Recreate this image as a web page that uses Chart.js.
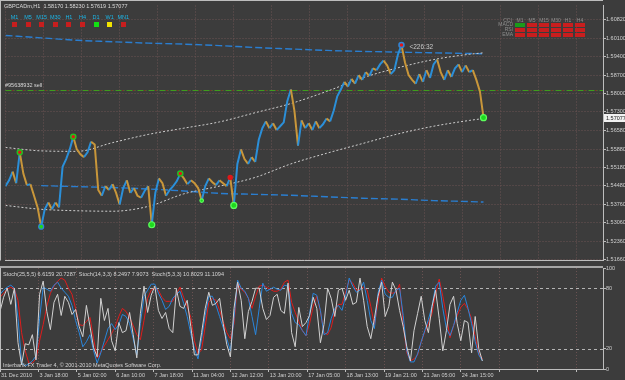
<!DOCTYPE html>
<html><head><meta charset="utf-8">
<script src="https://cdn.jsdelivr.net/npm/chart.js@4.4.1/dist/chart.umd.min.js"></script>
<style>
html,body{margin:0;padding:0;background:#3c3c3c;width:625px;height:380px;overflow:hidden}
canvas{position:absolute;left:0}
#cA{top:0}
#cB{top:266px}
</style></head><body>
<canvas id="cA" width="625" height="266"></canvas>
<canvas id="cB" width="625" height="114"></canvas>
<script>
// ---------------- data ----------------
const symbolTitle = 'GBPCADm,H1  1.58170 1.58230 1.57619 1.57077';
const barsPerSample = 3;      // one sample every 3 H1 bars
const barsPerLabel = 32;      // time label every 32 bars
const timeLabels = ['31 Dec 2010','3 Jan 18:00','5 Jan 02:00','6 Jan 10:00','7 Jan 18:00','11 Jan 04:00','12 Jan 12:00','13 Jan 20:00','17 Jan 05:00','18 Jan 13:00','19 Jan 21:00','21 Jan 05:00','24 Jan 15:00'];
const priceTicks = [1.60820,1.60100,1.59400,1.58700,1.58000,1.57300,1.56580,1.55880,1.55180,1.54480,1.53760,1.53060,1.52360,1.51660];
const priceVals = [
1.54464,1.54685,1.55017,1.54575,1.55755,1.54943,1.54501,1.54538,1.54095,1.53652,
1.52915,1.53579,1.53837,1.53579,1.53837,1.53652,1.55202,1.55497,1.55866,1.56345,
1.55866,1.55681,1.55571,1.55755,1.56161,1.56050,1.54316,1.54095,1.54464,1.54316,
1.54538,1.54206,1.53763,1.54390,1.54685,1.54206,1.54390,1.54095,1.54021,1.54279,
1.54464,1.52988,1.54206,1.54759,1.54575,1.54095,1.54316,1.54464,1.54648,1.54943,
1.54759,1.54538,1.54685,1.54575,1.54390,1.53911,1.54464,1.54759,1.54611,1.54501,
1.54685,1.54575,1.54464,1.54796,1.53726,1.55312,1.55866,1.55497,1.55312,1.55571,
1.55386,1.56235,1.56677,1.56936,1.56677,1.56862,1.56604,1.56751,1.56899,1.57710,
1.58153,1.57341,1.56013,1.56972,1.56677,1.56862,1.56604,1.56936,1.56677,1.56825,
1.57046,1.56936,1.57341,1.57895,1.58153,1.58448,1.58264,1.58559,1.58374,1.58706,
1.58522,1.58817,1.58669,1.58965,1.58891,1.59112,1.59260,1.59075,1.58743,1.58891,
1.59481,1.59850,1.59186,1.58706,1.58522,1.58374,1.58743,1.58448,1.58891,1.58596,
1.59112,1.59297,1.58817,1.58522,1.58891,1.58632,1.58965,1.59112,1.58817,1.59075,
1.58817,1.58891,1.58522,1.58079,1.57077];
const lineIdx   = [0,10,20,30,40,50,60,70,80,90,100,110,120,130,134];
const maUpper   = [1.60219,1.60127,1.60034,1.59979,1.59924,1.59887,1.59831,1.59758,1.59702,1.59647,1.59610,1.59581,1.59555,1.59529,1.59518];
const maLower   = [null,1.54482,1.54445,1.54409,1.54353,1.54279,1.54187,1.54150,1.54113,1.54058,1.54003,1.53966,1.53911,1.53874,1.53855];
const chanUpper = [1.55940,1.55810,1.55792,1.56124,1.56438,1.56677,1.56917,1.57268,1.57618,1.58079,1.58596,1.58983,1.59297,1.59499,1.59555];
const chanLower = [1.53726,1.53579,1.53523,1.53505,1.53689,1.54169,1.54464,1.54796,1.55312,1.55718,1.56087,1.56456,1.56751,1.56972,1.57046];
const peakIdx   = [4,19,49,63,111];
const peakRing  = ['#22c022','#22c022','#22c022','#e01818','#2f86d6'];
const peakSize  = [2.5,2.5,2.5,2,2.5];
const troughIdx = [10,41,55,64,134];
const troughRing= ['#2f86d6','#5cff5c','#5cff5c','#5cff5c','#5cff5c'];
const troughSize= [2.5,3,1.8,3,3];
const orderPrice = 1.58142;
const orderLabel = '#95638932 sell';
const lastPrice = 1.57077;
const timerText = '<226:32';
const stochSlow = [71,75,79,81,79,68,36,18,6,6,10,28,44,62,75,82,87,90,88,80,74,60,44,43,47,51,30,11,17,23,29,35,42,52,60,57,51,43,34,29,48,70,78,80,78,71,67,67,67,74,81,71,62,51,28,15,19,42,66,70,68,58,47,36,30,45,85,79,76,70,60,72,82,83,81,79,77,77,79,86,88,66,56,47,38,33,45,62,72,57,36,34,41,57,64,64,76,88,85,78,79,81,78,62,44,65,90,82,76,75,76,84,45,16,8,10,14,27,37,45,55,75,89,72,52,31,43,53,61,65,59,50,32,15,10];
const stochMid  = [74,78,81,83,80,50,6,3,5,8,13,50,81,79,77,83,86,80,76,72,63,48,36,22,27,34,18,6,16,28,40,45,39,44,54,52,45,30,14,45,72,78,84,84,75,68,59,62,70,74,77,65,52,35,20,10,30,53,72,72,63,52,41,30,18,50,88,80,77,70,52,34,60,85,77,79,81,79,78,83,82,55,46,44,38,33,55,75,73,58,34,36,50,60,63,58,72,90,82,76,78,86,68,48,40,75,88,74,71,71,78,80,53,18,7,7,15,27,38,49,62,82,86,60,40,33,43,56,68,73,60,45,27,14,8];
const stochFast = [57,71,80,64,80,26,4,25,24,34,9,74,87,57,39,66,74,53,72,66,54,59,42,32,63,42,21,12,70,48,60,28,18,46,36,38,56,34,11,55,82,56,73,82,58,50,56,40,36,79,62,60,68,42,14,14,36,60,76,63,65,70,45,24,12,60,86,68,30,57,67,80,80,60,49,53,71,74,58,55,85,36,22,61,42,46,53,71,60,26,44,80,70,52,78,80,68,78,64,66,90,68,42,30,50,72,86,52,62,86,78,58,42,22,8,38,55,72,48,36,62,78,50,18,38,64,72,45,28,48,46,16,52,20,8];
const stochLevels = [20,80];
const stochTicks = [0,20,80,100];
const stochLabel = 'Stoch(25,5,5) 6.6159 20.7287  Stoch(14,3,3) 8.2497 7.9073  Stoch(5,3,3) 10.8029 11.1094';
const copyright = 'Interbank FX Trader 4, \u00a9 2001-2010 MetaQuotes Software Corp.';
const tfNames = ['M1','M5','M15','M30','H1','H4','D1','W1','MN1'];
const tfState = ['down','down','down','down','down','down','up','flat','down'];
const sigCols = ['M1','M5','M15','M30','H1','H4'];
const sigRows = ['MACD','RSI','EMA'];
const sigState = [[1,0,0,0,0,0],[0,0,0,0,0,0],[0,0,0,0,0,0]];

// ---------------- style ----------------
const FONT = '"Liberation Sans", Arial, sans-serif';
const GRID = '#6a5252';
const AXIS = '#bdbdbd';
const TXT = '#cfcfcf';
const UP = '#2b8fd8', DOWN = '#c8963a';
const yMin = 1.516231, yMax = 1.613623;
const xMax = 502.5;
const gridBars = [];
for (let b = 0; b <= 480; b += barsPerLabel) gridBars.push(b);

Chart.defaults.font.family = FONT;
Chart.defaults.font.size = 5.5;
Chart.defaults.color = TXT;

function xScale(show) {
  return {
    type: 'linear', min: 0, max: xMax,
    afterBuildTicks: s => { s.ticks = gridBars.map(v => ({value: v})); },
    afterFit: s => { s.height = show ? 11 : 0; s.paddingLeft = 0; s.paddingRight = 0; },
    grid: { color: GRID, lineWidth: 1, drawTicks: show, tickLength: 3, tickColor: AXIS },
    border: { display: true, color: AXIS, width: 1, dash: [1, 2] },
    ticks: { display: show, autoSkip: false, maxRotation: 0, minRotation: 0, align: 'start',
      padding: 0, labelOffset: 1, color: TXT, font: { size: 5.5 },
      callback: v => timeLabels[Math.round(v / barsPerLabel)] ?? '' }
  };
}
const pts = (arr, idx) => arr.map((v, k) => ({ x: (idx ? idx[k] : k) * barsPerSample, y: v }));

const mainDecor = {
  id: 'mainDecor',
  beforeDatasetsDraw(chart) {
    const { ctx, chartArea: a, scales: { y } } = chart;
    const yy = Math.round(y.getPixelForValue(orderPrice)) + 0.5;
    ctx.save();
    ctx.lineWidth = 1;
    ctx.strokeStyle = '#3f9c1d'; ctx.setLineDash([6, 2, 1, 2]);
    ctx.beginPath(); ctx.moveTo(a.left, yy); ctx.lineTo(a.right, yy); ctx.stroke();
    ctx.strokeStyle = '#a82020'; ctx.setLineDash([1, 10]); ctx.lineDashOffset = -7;
    ctx.beginPath(); ctx.moveTo(a.left, yy); ctx.lineTo(a.right, yy); ctx.stroke();
    ctx.restore();
  },
  afterDraw(chart) {
    const { ctx, chartArea: a, scales: { x, y } } = chart;
    ctx.save();
    ctx.fillStyle = AXIS;
    ctx.fillRect(0, 0, a.right, 1);
    ctx.fillRect(0, 0, 1, a.bottom);
    ctx.font = `5.5px ${FONT}`;
    ctx.textBaseline = 'middle';
    ctx.textAlign = 'left';
    ctx.fillStyle = '#dcdcdc';
    ctx.fillText(symbolTitle, 4, 6.5);
    // timeframe trend panel
    const tfColor = { down: '#c81e1e', up: '#12e012', flat: '#f2e400' };
    ctx.textAlign = 'center';
    tfNames.forEach((n, k) => {
      const cx = 14.5 + k * 13.6;
      ctx.fillStyle = '#1cb6e8';
      ctx.fillText(n, cx, 17);
      ctx.fillStyle = tfColor[tfState[k]];
      ctx.fillRect(Math.round(cx - 2.5), 22, 5, 5);
    });
    // signal table
    ctx.font = `5px ${FONT}`;
    ctx.fillStyle = '#8e8e8e';
    ctx.fillText('CCI', 507.5, 20.5);
    sigCols.forEach((c, k) => { ctx.fillStyle = '#8e8e8e'; ctx.fillText(c, 520 + k * 12, 20.5); });
    sigRows.forEach((r, j) => {
      ctx.textAlign = 'right'; ctx.fillStyle = '#8e8e8e';
      ctx.fillText(r, 513, 25 + j * 5);
      sigCols.forEach((c, k) => {
        ctx.fillStyle = sigState[j][k] ? '#1a9a1a' : '#c81e1e';
        ctx.fillRect(515 + k * 12, 23 + j * 5, 10, 4);
      });
    });
    // order label
    ctx.font = `5.5px ${FONT}`;
    ctx.textAlign = 'left';
    ctx.fillStyle = '#d8d8d8';
    ctx.fillText(orderLabel, 5, y.getPixelForValue(orderPrice) - 4.5);
    // countdown next to the top marker
    const ti = peakIdx[4];
    ctx.font = `6.5px ${FONT}`;
    ctx.fillStyle = '#c8c8c8';
    ctx.fillText(timerText, x.getPixelForValue(ti * barsPerSample) + 8, y.getPixelForValue(priceVals[ti]) + 2.5);
    // current price box
    const yl = Math.round(y.getPixelForValue(lastPrice));
    ctx.fillStyle = '#f2f2f2';
    ctx.fillRect(a.right + 1, yl - 4, 625 - a.right, 8);
    ctx.fillStyle = '#1c1c1c';
    ctx.font = `5.5px ${FONT}`;
    ctx.fillText(lastPrice.toFixed(5), a.right + 3, yl + 0.5);
    ctx.restore();
  }
};

new Chart(document.getElementById('cA'), {
  type: 'line',
  data: { datasets: [
    { data: pts(peakIdx.map(i => priceVals[i]), peakIdx), showLine: false,
      pointRadius: peakSize, pointBackgroundColor: '#e01818', pointBorderColor: peakRing, pointBorderWidth: 1.5, order: 0 },
    { data: pts(troughIdx.map(i => priceVals[i]), troughIdx), showLine: false,
      pointRadius: troughSize, pointBackgroundColor: '#1ed81e', pointBorderColor: troughRing, pointBorderWidth: 1.2, order: 0 },
    { data: pts(priceVals), borderWidth: 2, pointRadius: 0, borderColor: UP,
      segment: { borderColor: c => c.p1.parsed.y >= c.p0.parsed.y ? UP : DOWN }, order: 1 },
    { data: pts(maUpper, lineIdx), borderColor: '#2a7ed0', borderWidth: 1.4, borderDash: [7, 3], pointRadius: 0, cubicInterpolationMode: 'monotone', order: 3 },
    { data: pts(maLower, lineIdx), borderColor: '#2a7ed0', borderWidth: 1.4, borderDash: [7, 3], pointRadius: 0, cubicInterpolationMode: 'monotone', order: 3 },
    { data: pts(chanUpper, lineIdx), borderColor: '#cfcfcf', borderWidth: 1, borderDash: [2, 2], pointRadius: 0, cubicInterpolationMode: 'monotone', order: 2 },
    { data: pts(chanLower, lineIdx), borderColor: '#cfcfcf', borderWidth: 1, borderDash: [2, 2], pointRadius: 0, cubicInterpolationMode: 'monotone', order: 2 }
  ]},
  options: {
    responsive: false, animation: false, devicePixelRatio: 1, events: [],
    layout: { padding: { left: 0, top: 1, right: 0, bottom: 1 } },
    plugins: { legend: { display: false }, tooltip: { enabled: false } },
    scales: {
      x: xScale(false),
      y: { type: 'linear', position: 'right', min: yMin, max: yMax,
        afterBuildTicks: s => { s.ticks = priceTicks.map(v => ({value: v})); },
        afterFit: s => { s.width = 22; s.paddingTop = 0; s.paddingBottom = 0; },
        grid: { color: GRID, drawTicks: true, tickLength: 3, tickColor: AXIS },
        border: { display: true, color: AXIS, width: 1, dash: [1, 2] },
        ticks: { autoSkip: false, padding: 0, color: TXT, font: { size: 5.5 }, callback: v => v.toFixed(5) } }
    }
  },
  plugins: [mainDecor]
});

const stochDecor = {
  id: 'stochDecor',
  beforeDatasetsDraw(chart) {
    const { ctx, chartArea: a, scales: { y } } = chart;
    ctx.save();
    ctx.strokeStyle = '#b4b4b4'; ctx.lineWidth = 1; ctx.setLineDash([3, 3]);
    stochLevels.forEach(l => {
      const yy = Math.round(y.getPixelForValue(l)) + 0.5;
      ctx.beginPath(); ctx.moveTo(a.left, yy); ctx.lineTo(a.right, yy); ctx.stroke();
    });
    ctx.restore();
  },
  afterDraw(chart) {
    const { ctx, chartArea: a } = chart;
    ctx.save();
    ctx.fillStyle = '#a6a6a6';
    ctx.fillRect(0, 0, a.right, 2);
    ctx.fillStyle = AXIS;
    ctx.fillRect(0, a.top, 1, a.bottom - a.top);
    ctx.font = `5.5px ${FONT}`;
    ctx.textBaseline = 'middle';
    ctx.fillStyle = '#d4d4d4';
    ctx.fillText(stochLabel, 3, 8.5);
    ctx.fillText(copyright, 3, 99);
    ctx.restore();
  }
};

new Chart(document.getElementById('cB'), {
  type: 'line',
  data: { datasets: [
    { data: pts(stochSlow), borderColor: '#e01c1c', borderWidth: 1, pointRadius: 0, order: 3 },
    { data: pts(stochMid), borderColor: '#2a86dc', borderWidth: 1, pointRadius: 0, order: 2 },
    { data: pts(stochFast), borderColor: '#d2d2d2', borderWidth: 1, pointRadius: 0, order: 1 }
  ]},
  options: {
    responsive: false, animation: false, devicePixelRatio: 1, events: [],
    layout: { padding: { left: 0, top: 2, right: 0, bottom: 0 } },
    plugins: { legend: { display: false }, tooltip: { enabled: false } },
    scales: {
      x: xScale(true),
      y: { type: 'linear', position: 'right', min: 0, max: 100,
        afterBuildTicks: s => { s.ticks = stochTicks.map(v => ({value: v})); },
        afterFit: s => { s.width = 22; s.paddingTop = 0; s.paddingBottom = 0; },
        grid: { color: 'rgba(0,0,0,0)', drawTicks: true, tickLength: 3, tickColor: AXIS },
        border: { display: true, color: AXIS, width: 1 },
        ticks: { autoSkip: false, padding: 0, color: TXT, font: { size: 5.5 }, callback: v => String(v) } }
    }
  },
  plugins: [stochDecor]
});
</script>
</body></html>
